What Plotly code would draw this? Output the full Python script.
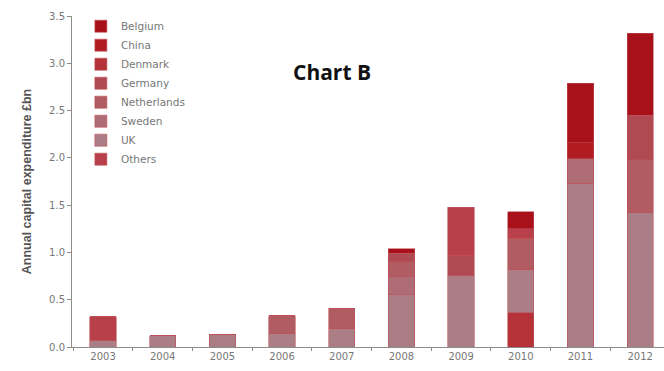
import plotly.graph_objects as go

years = ["2003", "2004", "2005", "2006", "2007", "2008", "2009", "2010", "2011", "2012"]

# stacked bottom -> top
denmark     = [0.00, 0.00, 0.00, 0.00, 0.00, 0.00, 0.00, 0.36, 0.00, 0.00]
uk          = [0.07, 0.12, 0.13, 0.14, 0.20, 0.55, 0.76, 0.46, 1.73, 1.42]
sweden      = [0.00, 0.00, 0.00, 0.00, 0.00, 0.20, 0.00, 0.00, 0.26, 0.00]
netherlands = [0.00, 0.00, 0.00, 0.19, 0.21, 0.15, 0.00, 0.33, 0.00, 0.56]
germany     = [0.00, 0.00, 0.00, 0.00, 0.00, 0.09, 0.21, 0.00, 0.00, 0.47]
others      = [0.25, 0.00, 0.00, 0.00, 0.00, 0.00, 0.51, 0.10, 0.00, 0.00]
china       = [0.00, 0.00, 0.00, 0.00, 0.00, 0.00, 0.00, 0.00, 0.17, 0.00]
belgium     = [0.00, 0.00, 0.00, 0.00, 0.00, 0.05, 0.00, 0.18, 0.63, 0.87]

series = [
    ("Denmark", denmark, "#b43238", 3),
    ("UK", uk, "#ab7d84", 7),
    ("Sweden", sweden, "#ae6d75", 6),
    ("Netherlands", netherlands, "#b15b63", 5),
    ("Germany", germany, "#b04a52", 4),
    ("Others", others, "#b8404a", 8),
    ("China", china, "#b01c22", 2),
    ("Belgium", belgium, "#a8101a", 1),
]

fig = go.Figure()
for name, vals, col, rank in series:
    fig.add_trace(go.Bar(
        x=years, y=vals, name=name, legendrank=rank,
        marker=dict(color=col, line=dict(width=0.6, color="#c05058")),
    ))

tick_font = dict(family="DejaVu Sans, Liberation Sans", size=10, color="#777777")

fig.update_layout(
    width=664, height=371,
    margin=dict(l=72, r=0, t=16, b=24),
    barmode="stack", bargap=0.56,
    plot_bgcolor="white", paper_bgcolor="white",
    font=dict(family="DejaVu Sans, Liberation Sans", size=10, color="#777777"),
    showlegend=True,
    legend=dict(
        x=0.015, y=1.013, xanchor="left", yanchor="top",
        traceorder="normal", itemwidth=30,
        font=dict(family="DejaVu Sans, Liberation Sans", size=10.5, color="#777777"),
        bgcolor="rgba(0,0,0,0)", tracegroupgap=0,
    ),
    xaxis=dict(
        type="category", range=[-0.52, 9.40],
        showline=True, linecolor="#8c8c8c", linewidth=1,
        ticks="outside", tickson="boundaries", ticklen=3, tickcolor="#8c8c8c",
        showgrid=False, tickfont=tick_font,
    ),
    yaxis=dict(
        range=[0, 3.5], dtick=0.5, tickformat=".1f",
        showline=True, linecolor="#8c8c8c", linewidth=1,
        ticks="outside", ticklen=4, tickcolor="#8c8c8c",
        showgrid=False, zeroline=False,
        tickfont=tick_font,
        title=dict(text="<b>Annual capital expenditure £bn</b>",
                   font=dict(family="Liberation Sans, Arial", size=12.5, color="#555555"),
                   standoff=14),
    ),
    annotations=[dict(
        text="<b>Chart B</b>", x=0.44, y=0.879, xref="paper", yref="paper",
        showarrow=False, font=dict(family="Open Sans, Liberation Sans", size=21, color="#111111"),
    )],
)

fig.write_html("out.html")
